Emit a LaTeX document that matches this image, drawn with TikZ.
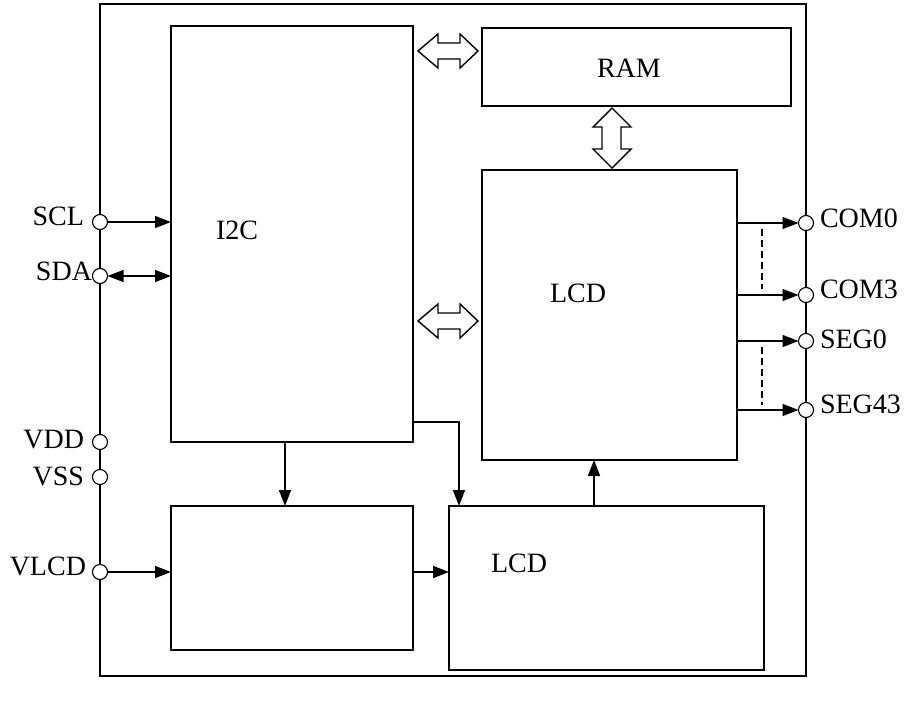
\documentclass[tikz,border=0pt]{standalone}
\usepackage{fontspec}
\setmainfont{Liberation Serif}
\usetikzlibrary{arrows.meta}
\begin{document}
\begin{tikzpicture}[x=1pt,y=-1pt,
  every node/.style={inner sep=0pt,outer sep=0pt},
  blk/.style={draw,line width=1.4pt,rectangle},
  pin/.style={draw,circle,fill=white,line width=1.1pt,minimum size=15pt},
  lbl/.style={font=\fontsize{28}{32}\selectfont},
  arr/.style={line width=1.4pt,-{Triangle[length=16pt,width=12pt]}},
  darr/.style={line width=1.4pt,{Triangle[length=16pt,width=12pt]}-{Triangle[length=16pt,width=12pt]}},
  barrow/.style={draw,line width=1.4pt,fill=white,line join=miter}
]
\useasboundingbox (0,0) rectangle (907,704);
% outer box
\node[blk,minimum width=706pt,minimum height=672pt] (outer) at (453,340) {};
% blocks
\node[blk,minimum width=242pt,minimum height=416pt] (i2c) at (292,234) {};
\node[blk,minimum width=309pt,minimum height=78pt] (ram) at (636.5,67) {};
\node[blk,minimum width=255pt,minimum height=290pt] (lcd) at (609.5,315) {};
\node[blk,minimum width=242pt,minimum height=144pt] (bl) at (292,578) {};
\node[blk,minimum width=315pt,minimum height=164pt] (lcdb) at (606.5,588) {};
% block texts
\node[lbl,anchor=base west] (tram) at (597,77) {RAM};
\node[lbl,anchor=base west] (ti2c) at (216,239) {I2C};
\node[lbl,anchor=base west] (tlcd) at (550,302) {LCD};
\node[lbl,anchor=base west] (tlcdb) at (491,572) {LCD};
% pins
\node[pin] (pscl) at (100,222) {};
\node[pin] (psda) at (100,276) {};
\node[pin] (pvdd) at (100,442) {};
\node[pin] (pvss) at (100,477) {};
\node[pin] (pvlcd) at (100,572) {};
\node[pin] (pcom0) at (806,223) {};
\node[pin] (pcom3) at (806,295) {};
\node[pin] (pseg0) at (806,341) {};
\node[pin] (pseg43) at (806,410) {};
% pin labels
\node[lbl,anchor=base east] (lscl) at (84,225) {SCL};
\node[lbl,anchor=base east] (lsda) at (92,280) {SDA};
\node[lbl,anchor=base east] (lvdd) at (84,448) {VDD};
\node[lbl,anchor=base east] (lvss) at (84,485) {VSS};
\node[lbl,anchor=base east] (lvlcd) at (86,575) {VLCD};
\node[lbl,anchor=base west] (lcom0) at (820,227) {COM0};
\node[lbl,anchor=base west] (lcom3) at (820,298) {COM3};
\node[lbl,anchor=base west] (lseg0) at (820,348) {SEG0};
\node[lbl,anchor=base west] (lseg43) at (820,413) {SEG43};
% connectors left
\draw[arr] (pscl) -- (i2c.west |- pscl);
\draw[darr] (psda) -- (i2c.west |- psda);
\draw[arr] (pvlcd) -- (bl.west |- pvlcd);
% connectors right
\draw[arr] (lcd.east |- pcom0) -- (pcom0);
\draw[arr] (lcd.east |- pcom3) -- (pcom3);
\draw[arr] (lcd.east |- pseg0) -- (pseg0);
\draw[arr] (lcd.east |- pseg43) -- (pseg43);
\draw[line width=1.2pt,dash pattern=on 7pt off 4pt] (762,229) -- (762,289);
\draw[line width=1.2pt,dash pattern=on 7pt off 4pt] (762,347) -- (762,405);
% internal connectors
\coordinate (ca) at (285,0);
\coordinate (cb) at (459,422);
\coordinate (cc) at (594,0);
\draw[arr] (i2c.south -| ca) -- (bl.north -| ca);
\draw[arr] (i2c.east |- cb) -- (cb) -- (lcdb.north -| cb);
\draw[arr] (bl.east |- pvlcd) -- (lcdb.west |- pvlcd);
\draw[arr] (lcdb.north -| cc) -- (lcd.south -| cc);
% block arrows
\draw[barrow] (418,51) -- (438,34) -- (438,43) -- (460,43) -- (460,34) -- (478,51)
  -- (460,68) -- (460,59) -- (438,59) -- (438,68) -- cycle;
\draw[barrow] (418,321) -- (438,304) -- (438,313) -- (460,313) -- (460,304) -- (478,321)
  -- (460,338) -- (460,329) -- (438,329) -- (438,338) -- cycle;
\draw[barrow] (612,108) -- (631,127) -- (621,127) -- (621,149) -- (631,149) -- (612,168)
  -- (593,149) -- (602,149) -- (602,127) -- (593,127) -- cycle;
\end{tikzpicture}
\end{document}
